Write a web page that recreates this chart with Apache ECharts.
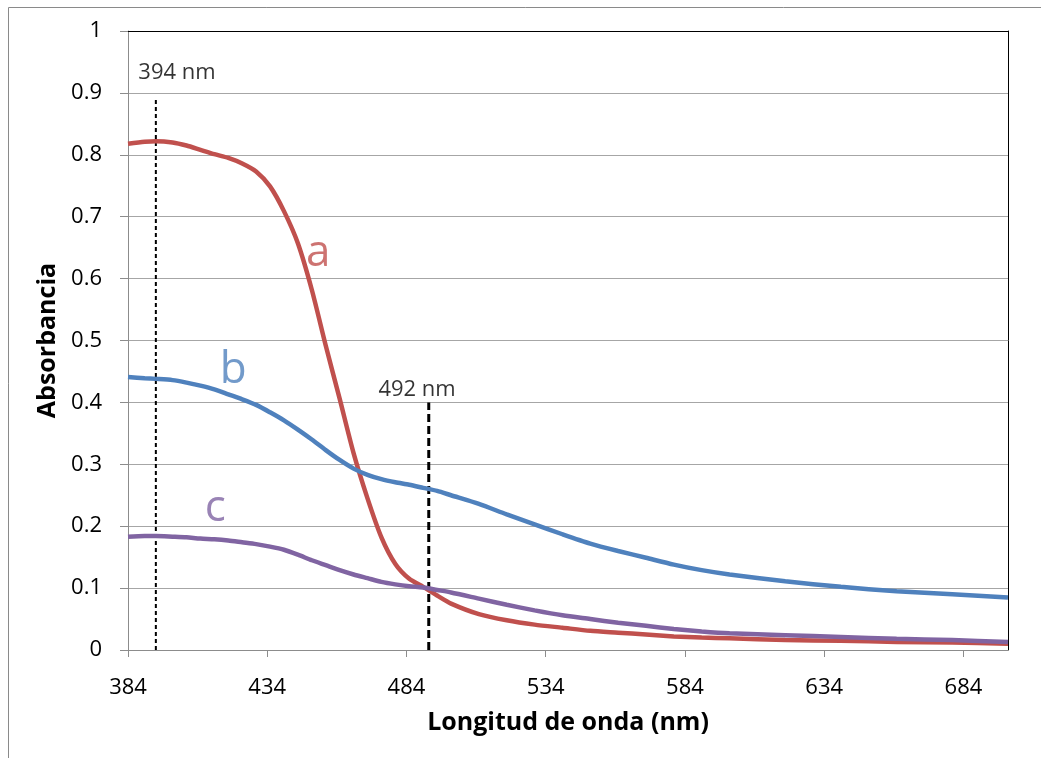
<!DOCTYPE html>
<html>
<head>
<meta charset="utf-8">
<script src="https://cdn.jsdelivr.net/npm/echarts@6/dist/echarts.min.js"></script>
<style>
  html, body { margin: 0; padding: 0; background: #fff; }
  #chart { width: 1041px; height: 758px; }
</style>
</head>
<body>
<div id="chart"></div>
<script>
// Wavelength (nm) sampled along the curves
const wavelengths = [384, 390, 394, 400, 405, 410, 415, 420, 425, 430, 435, 440, 445, 450, 455, 460, 465, 470, 475, 480,
    485, 490, 495, 500, 510, 520, 530, 540, 550, 560, 570, 580, 590, 600, 620, 640, 660, 680, 700];

// Absorbance of each sample
const absA = [0.818, 0.821, 0.822, 0.820, 0.815, 0.808, 0.801, 0.795, 0.786, 0.773, 0.749, 0.709, 0.657, 0.582, 0.492, 0.406, 0.318, 0.245, 0.182, 0.139,
    0.115, 0.102, 0.088, 0.075, 0.058, 0.048, 0.041, 0.036, 0.031, 0.028, 0.025, 0.022, 0.020, 0.019, 0.016, 0.015, 0.013, 0.012, 0.010];
const absB = [0.441, 0.439, 0.438, 0.436, 0.432, 0.427, 0.421, 0.413, 0.405, 0.396, 0.384, 0.371, 0.356, 0.340, 0.323, 0.307, 0.293, 0.283, 0.276, 0.271,
    0.267, 0.262, 0.257, 0.250, 0.236, 0.219, 0.203, 0.187, 0.172, 0.160, 0.149, 0.138, 0.129, 0.122, 0.111, 0.102, 0.095, 0.090, 0.085];
const absC = [0.183, 0.184, 0.184, 0.183, 0.182, 0.180, 0.179, 0.177, 0.174, 0.171, 0.167, 0.162, 0.154, 0.145, 0.137, 0.129, 0.122, 0.116, 0.110, 0.106,
    0.103, 0.101, 0.097, 0.093, 0.083, 0.073, 0.064, 0.056, 0.050, 0.044, 0.039, 0.034, 0.030, 0.027, 0.024, 0.021, 0.018, 0.016, 0.013];

// Reference wavelengths marked with dashed lines
const markers = [
    { nm: 394, top: 0.89, label: '394 nm', labelAt: [401.6, 0.932] },
    { nm: 492, top: 0.40, label: '492 nm', labelAt: [487.8, 0.420] }
];

// Curve letters and where they sit
const curveNames = ['a', 'b', 'c'];
const curveColors = ['#C0504D', '#4F81BD', '#8064A2'];
const letterAt = [[452.3, 0.641], [421.8, 0.452], [415.3, 0.229]];

const FONT = '"Open Sans", sans-serif';

const zip = (xs, ys) => xs.map((x, i) => [x, ys[i]]);

const curveSeries = [absA, absB, absC].map((ys, i) => ({
    name: curveNames[i],
    type: 'line',
    data: zip(wavelengths, ys),
    smooth: 0.25,
    showSymbol: false,
    lineStyle: { color: curveColors[i], width: 4.5 },
    z: 3
}));

const markerSeries = markers.map((m, i) => ({
    type: 'line',
    data: [[m.nm, 0], [m.nm, m.top]],
    showSymbol: false,
    lineStyle: i === 0
        ? { color: '#000', width: 2, type: [4, 3] }
        : { color: '#000', width: 3, type: [8, 4] },
    z: 2
}));

const textSeries = {
    type: 'scatter',
    symbolSize: 0,
    data: [
        ...markers.map(m => ({ value: m.labelAt, name: m.label, label: { fontSize: 22, color: '#000' } })),
        ...curveNames.map((n, i) => ({ value: letterAt[i], name: n, label: { fontSize: 44, color: curveColors[i] } }))
    ],
    label: { show: true, position: 'inside', formatter: p => p.name, fontFamily: FONT },
    z: 4
};

const chart = echarts.init(document.getElementById('chart'));
chart.setOption({
    animation: false,
    backgroundColor: '#fff',
    graphic: [{
        type: 'rect',
        shape: { x: 8.5, y: 7.5, width: 1100, height: 800 },
        style: { fill: 'none', stroke: '#8a8a8a', lineWidth: 1 },
        silent: true
    }],
    grid: { left: 128, top: 31, right: 33, bottom: 108 },
    xAxis: [{
        type: 'value',
        min: 384, max: 700, interval: 50,
        name: 'Longitud de onda (nm)',
        nameLocation: 'middle',
        nameGap: 60,
        nameTextStyle: { fontFamily: FONT, fontSize: 25, fontWeight: 'bold', color: '#000' },
        axisLine: { show: true, lineStyle: { color: '#8c8c8c', width: 1 } },
        axisTick: { show: true, length: 7, lineStyle: { color: '#8c8c8c' } },
        axisLabel: { margin: 27, fontFamily: FONT, fontSize: 22, color: '#000', showMaxLabel: false },
        splitLine: { show: false }
    }, {
        type: 'value',
        position: 'top',
        min: 384, max: 700,
        axisLine: { show: true, onZero: false, lineStyle: { color: '#000', width: 1 } },
        axisTick: { show: false }, axisLabel: { show: false }, splitLine: { show: false }
    }],
    yAxis: [{
        type: 'value',
        min: 0, max: 1, interval: 0.1,
        name: 'Absorbancia',
        nameLocation: 'middle',
        nameGap: 68,
        nameTextStyle: { fontFamily: FONT, fontSize: 25, fontWeight: 'bold', color: '#000' },
        axisLine: { show: true, lineStyle: { color: '#8c8c8c', width: 1 } },
        axisTick: { show: true, length: 8, lineStyle: { color: '#8c8c8c' } },
        axisLabel: { margin: 26, fontFamily: FONT, fontSize: 22, color: '#000',
            formatter: v => String(Math.round(v * 10) / 10) },
        splitLine: { show: true, lineStyle: { color: '#a6a6a6', width: 1 } }
    }, {
        type: 'value',
        position: 'right',
        min: 0, max: 1,
        axisLine: { show: true, onZero: false, lineStyle: { color: '#000', width: 1 } },
        axisTick: { show: false }, axisLabel: { show: false }, splitLine: { show: false }
    }],
    series: [...markerSeries, ...curveSeries, textSeries]
});
</script>
</body>
</html>
